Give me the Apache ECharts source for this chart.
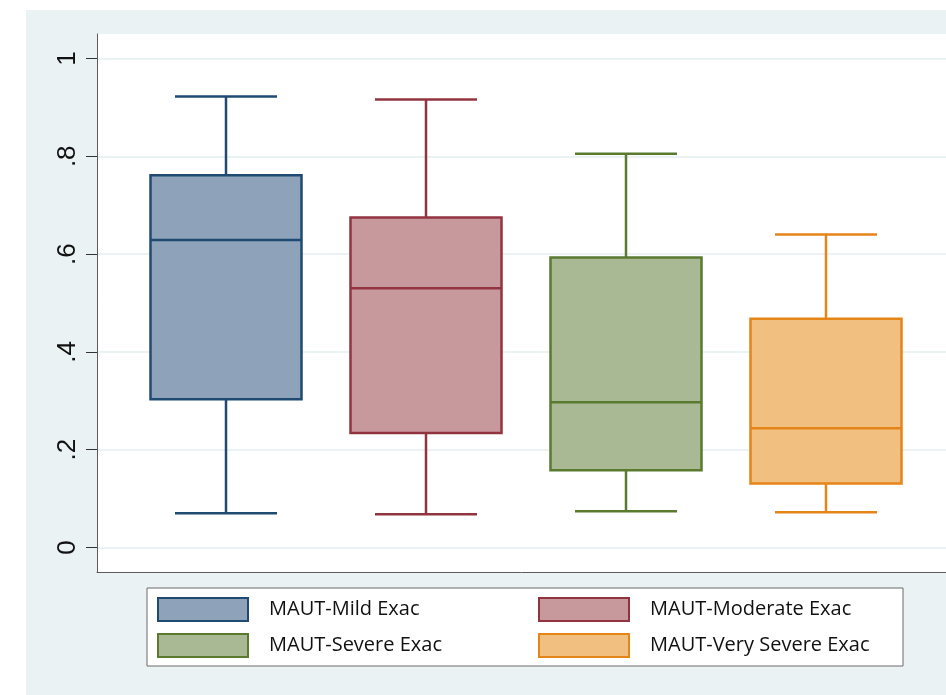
<!DOCTYPE html>
<html>
<head>
<meta charset="utf-8">
<script src="https://cdn.jsdelivr.net/npm/echarts@6/dist/echarts.min.js"></script>
<style>
  html, body { margin: 0; padding: 0; background: #fff; }
  #main { position: absolute; left: 26px; top: 10px; width: 920px; height: 685px; }
</style>
</head>
<body>
<div id="main"></div>
<script>
// 箱线图数据
const categories = ['MAUT-Mild Exac', 'MAUT-Moderate Exac', 'MAUT-Severe Exac', 'MAUT-Very Severe Exac'];
const lowWhisker = [0.070, 0.068, 0.074, 0.072];
const q1 = [0.303, 0.234, 0.158, 0.131];
const median = [0.629, 0.530, 0.297, 0.244];
const q3 = [0.761, 0.675, 0.593, 0.468];
const highWhisker = [0.922, 0.916, 0.805, 0.640];
const yTicks = [0, 0.2, 0.4, 0.6, 0.8, 1];
const yTickLabels = ['0', '.2', '.4', '.6', '.8', '1'];

const fills = ['#8ea3b9', '#c8999c', '#a9b994', '#f1bf80'];
const strokes = ['#1f4b73', '#923440', '#5a7a30', '#e58518'];

const chart = echarts.init(document.getElementById('main'));

const renderBox = (i) => (params, api) => {
  const x = api.value(0);
  const lo = api.coord([x, api.value(1)]);
  const b1 = api.coord([x, api.value(2)]);
  const md = api.coord([x, api.value(3)]);
  const b3 = api.coord([x, api.value(4)]);
  const hi = api.coord([x, api.value(5)]);
  const unit = api.size([1, 0])[0];
  const bw = unit * 0.755;
  const cw = unit * 0.51;
  const line = { stroke: strokes[i], lineWidth: 2.5 };
  const cx = md[0];
  return {
    type: 'group',
    children: [
      { type: 'line', shape: { x1: cx, y1: lo[1], x2: cx, y2: b1[1] }, style: line },
      { type: 'line', shape: { x1: cx, y1: b3[1], x2: cx, y2: hi[1] }, style: line },
      { type: 'line', shape: { x1: cx - cw / 2, y1: lo[1], x2: cx + cw / 2, y2: lo[1] }, style: line },
      { type: 'line', shape: { x1: cx - cw / 2, y1: hi[1], x2: cx + cw / 2, y2: hi[1] }, style: line },
      { type: 'rect', shape: { x: cx - bw / 2, y: b3[1], width: bw, height: b1[1] - b3[1] },
        style: { fill: fills[i], stroke: strokes[i], lineWidth: 2.5 } },
      { type: 'line', shape: { x1: cx - bw / 2, y1: md[1], x2: cx + bw / 2, y2: md[1] }, style: line }
    ]
  };
};

const series = categories.map((name, i) => ({
  name: name,
  type: 'custom',
  renderItem: renderBox(i),
  itemStyle: { color: fills[i], borderColor: strokes[i], borderWidth: 2 },
  encode: { x: 0, y: [1, 2, 3, 4, 5] },
  data: [[i + 1, lowWhisker[i], q1[i], median[i], q3[i], highWhisker[i]]],
  z: 3
}));

chart.setOption({
  backgroundColor: '#eaf2f3',
  animation: false,
  grid: {
    left: 71, top: 24, right: 0, bottom: 123,
    show: true, backgroundColor: '#fff', borderWidth: 0
  },
  xAxis: {
    type: 'value',
    min: 0.355,
    max: 4.6,
    axisLine: { show: true, onZero: false, lineStyle: { color: '#5c5c5c', width: 1 } },
    axisTick: { show: false },
    axisLabel: { show: false },
    splitLine: { show: false }
  },
  yAxis: {
    type: 'value',
    min: -0.05,
    max: 1.05,
    axisLine: { show: true, lineStyle: { color: '#5c5c5c', width: 1 } },
    axisTick: { show: true, length: 11, customValues: yTicks, lineStyle: { color: '#333', width: 1 } },
    axisLabel: {
      customValues: yTicks,
      rotate: 90,
      margin: 16,
      fontSize: 26,
      fontFamily: 'Liberation Sans',
      color: '#111',
      formatter: (v) => yTickLabels[yTicks.findIndex(t => Math.abs(t - v) < 1e-6)]
    },
    splitLine: { show: true, lineStyle: { color: '#eaf2f3', width: 2 } }
  },
  legend: {
    left: 121,
    top: 578,
    width: 770,
    padding: [9, 10, 8, 10],
    backgroundColor: '#fff',
    borderColor: '#6b6b6b',
    borderWidth: 1,
    borderRadius: 0,
    itemWidth: 90,
    itemHeight: 23,
    itemGap: 11,
    icon: 'rect',
    formatter: (name) => (categories.indexOf(name) % 2 ? '{r|' : '{l|') + name + '}',
    textStyle: {
      fontFamily: 'Open Sans',
      fontSize: 20,
      lineHeight: 23,
      color: '#111',
      padding: [0, 0, 0, 16],
      rich: {
        l: { width: 258, fontFamily: 'Open Sans', fontSize: 20, lineHeight: 23, color: '#111' },
        r: { width: 243, fontFamily: 'Open Sans', fontSize: 20, lineHeight: 23, color: '#111' }
      }
    },
    data: categories.map((name, i) => ({
      name: name,
      itemStyle: { color: fills[i], borderColor: strokes[i], borderWidth: 2 }
    }))
  },
  series: series
});
</script>
</body>
</html>
